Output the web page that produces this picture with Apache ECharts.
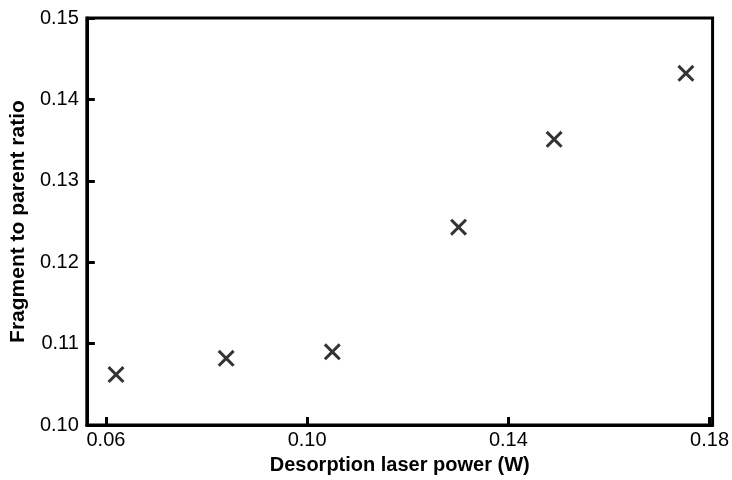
<!DOCTYPE html>
<html>
<head>
<meta charset="utf-8">
<script src="https://cdn.jsdelivr.net/npm/echarts@6/dist/echarts.min.js"></script>
<style>html,body{margin:0;padding:0;background:#fff}#c{width:732px;height:480px}</style>
</head>
<body>
<div id="c"></div>
<script>
var laserPower = [0.0620, 0.0839, 0.1050, 0.1301, 0.1491, 0.1753];
var fragmentRatio = [0.1062, 0.1082, 0.1090, 0.1243, 0.1351, 0.1432];
var xTicks = [0.06, 0.10, 0.14, 0.18];
var yTicks = [0.10, 0.11, 0.12, 0.13, 0.14, 0.15];

var pts = laserPower.map(function (x, i) { return [x, fragmentRatio[i]]; });
var crossPath = 'path://M0,1.25 L1.25,0 L5,3.75 L8.75,0 L10,1.25 L6.25,5 L10,8.75 L8.75,10 L5,6.25 L1.25,10 L0,8.75 L3.75,5 Z';
var font = '"Liberation Sans", Arial, sans-serif';

var chart = echarts.init(document.getElementById('c'), null, {renderer: 'canvas'});
chart.setOption({
  animation: false,
  backgroundColor: '#fff',
  grid: {left: 82, right: 18, top: 18, bottom: 42, show: true, borderColor: '#000', borderWidth: 3, backgroundColor: 'transparent'},
  xAxis: {
    type: 'value',
    min: 0.0562, max: 0.1806,
    name: 'Desorption laser power (W)',
    nameLocation: 'middle',
    nameGap: 21,
    nameTextStyle: {fontFamily: font, fontWeight: 'bold', fontSize: 20, color: '#000'},
    axisLine: {show: true, onZero: false, lineStyle: {color: '#000', width: 3}},
    axisTick: {show: true, inside: true, length: 8, lineStyle: {color: '#000', width: 3},
      customValues: xTicks},
    axisLabel: {fontFamily: font, fontSize: 20, color: '#000', margin: 5,
      customValues: xTicks, formatter: function (v) { return v.toFixed(2); }},
    splitLine: {show: false}
  },
  yAxis: {
    type: 'value',
    min: 0.10, max: 0.15,
    interval: 0.01,
    name: 'Fragment to parent ratio',
    nameLocation: 'middle',
    nameGap: 56,
    nameTextStyle: {fontFamily: font, fontWeight: 'bold', fontSize: 21, color: '#000'},
    axisLine: {show: true, lineStyle: {color: '#000', width: 3}},
    axisTick: {show: true, inside: true, length: 8, lineStyle: {color: '#000', width: 3}, customValues: yTicks},
    axisLabel: {fontFamily: font, fontSize: 20, color: '#000', margin: 8, customValues: yTicks,
      formatter: function (v) { return v.toFixed(2); }},
    splitLine: {show: false}
  },
  series: [{
    type: 'scatter',
    data: pts,
    symbol: crossPath,
    symbolSize: 17,
    itemStyle: {color: '#000'}
  }]
});
</script>
</body>
</html>
